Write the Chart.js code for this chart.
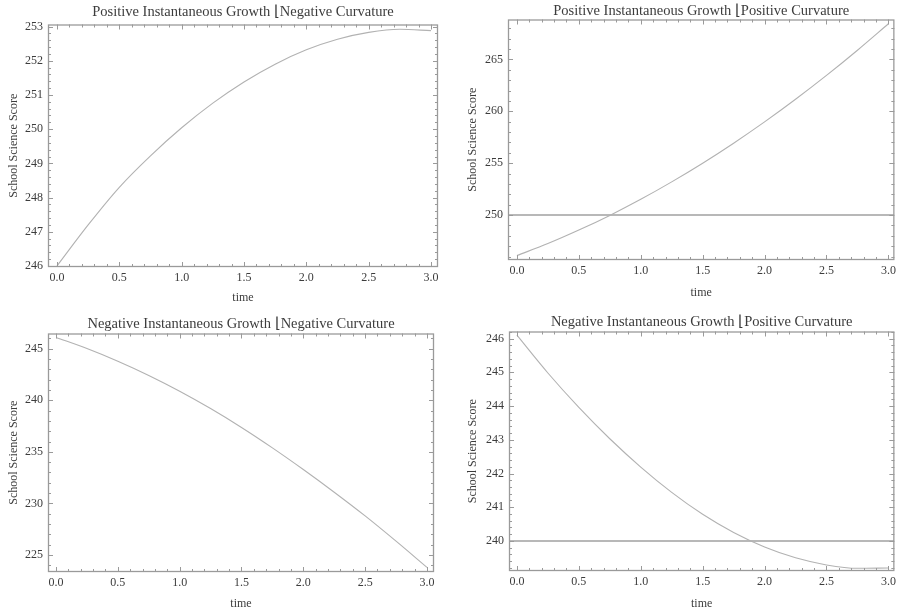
<!DOCTYPE html>
<html>
<head>
<meta charset="utf-8">
<script src="https://cdn.jsdelivr.net/npm/chart.js@4"></script>
<style>
  html, body { margin: 0; padding: 0; background: #fff; }
  body { width: 900px; height: 613px; position: relative; overflow: hidden; }
  .panel { position: absolute; }
</style>
</head>
<body>
<div class="panel" style="left:0;top:0;width:450px;height:306px"><canvas id="c1"></canvas></div>
<div class="panel" style="left:450px;top:0;width:450px;height:306px"><canvas id="c2"></canvas></div>
<div class="panel" style="left:0;top:310px;width:450px;height:303px"><canvas id="c3"></canvas></div>
<div class="panel" style="left:450px;top:310px;width:450px;height:303px"><canvas id="c4"></canvas></div>
<script>
'use strict';

// ─── Data ─────────────────────────────────────────────────────────────────────

const times = [0, 0.25, 0.5, 0.75, 1, 1.25, 1.5, 1.75, 2, 2.25, 2.5, 2.75, 3];

const posGrowthNegCurv = [246.0, 247.2, 248.3, 249.22, 250.04, 250.76, 251.38, 251.9, 252.32, 252.63, 252.83, 252.92, 252.88];
const posGrowthPosCurv = [246.1, 247.25, 248.55, 249.97, 251.52, 253.2, 255.0, 256.93, 258.98, 261.16, 263.46, 265.89, 268.44];
const negGrowthNegCurv = [246.1, 245.02, 243.79, 242.41, 240.88, 239.2, 237.37, 235.39, 233.29, 231.09, 228.79, 226.34, 223.8];
const negGrowthPosCurv = [246.1, 244.98, 243.96, 243.03, 242.19, 241.44, 240.79, 240.25, 239.82, 239.5, 239.29, 239.19, 239.2];

const refLevelPosPos = 250;
const refLevelNegPos = 240;

const xTicks  = [0, 0.5, 1, 1.5, 2, 2.5, 3];
const yTicks1 = [246, 247, 248, 249, 250, 251, 252, 253];
const yTicks2 = [250, 255, 260, 265];
const yTicks3 = [225, 230, 235, 240, 245];
const yTicks4 = [240, 241, 242, 243, 244, 245, 246];

const titles = [
  'Positive Instantaneous Growth \u230ANegative Curvature',
  'Positive Instantaneous Growth \u230APositive Curvature',
  'Negative Instantaneous Growth \u230ANegative Curvature',
  'Negative Instantaneous Growth \u230APositive Curvature',
];

// ─── Layout (pixels relative to each panel) ───────────────────────────────────

const SERIF = '"Liberation Serif", "Times New Roman", serif';
const TEXT  = '#3c3c3c';
const FRAME = '#9a9a9a';

const panels = [
  { id: 'c1', w: 450, h: 306, area: { l: 48, t: 24, r: 438, b: 267 }, titleY: 12,
    x: [-0.072, 3.056], y: [245.97, 253.06], yTicks: yTicks1, yMinor: 0.2, yMajor: 1,
    yTitlePad: 6.8, xTitlePad: 0.8, series: posGrowthNegCurv, ref: null },
  { id: 'c2', w: 450, h: 306, area: { l: 58, t: 19, r: 447, b: 260 }, titleY: 11,
    x: [-0.072, 3.048], y: [245.67, 268.85], yTicks: yTicks2, yMinor: 1, yMajor: 5,
    yTitlePad: 15.5, xTitlePad: 5.8, series: posGrowthPosCurv, ref: refLevelPosPos },
  { id: 'c3', w: 450, h: 303, area: { l: 48, t: 23, r: 434, b: 262 }, titleY: 14,
    x: [-0.065, 3.057], y: [223.35, 246.48], yTicks: yTicks3, yMinor: 1, yMajor: 5,
    yTitlePad: 6.8, xTitlePad: 1.8, series: negGrowthNegCurv, ref: null },
  { id: 'c4', w: 450, h: 303, area: { l: 59, t: 21, r: 447, b: 261 }, titleY: 12,
    x: [-0.064, 3.048], y: [239.11, 246.21], yTicks: yTicks4, yMinor: 0.2, yMajor: 1,
    yTitlePad: 15.5, xTitlePad: 1.8, series: negGrowthPosCurv, ref: refLevelNegPos },
];

// ─── Inward frame ticks (Mathematica style) ───────────────────────────────────

function isMultiple(v, step) {
  const q = v / step;
  return Math.abs(q - Math.round(q)) < 1e-6;
}

const frameTicks = {
  id: 'frameTicks',
  afterDatasetsDraw(chart, args, opts) {
    const { ctx, chartArea: a, scales: { x, y } } = chart;
    ctx.save();
    ctx.strokeStyle = FRAME;
    ctx.lineWidth = 1.3;
    ctx.strokeRect(a.left + 0.5, a.top + 0.5, a.right - a.left - 1, a.bottom - a.top - 1);

    ctx.lineWidth = 1;
    ctx.beginPath();
    for (let k = Math.ceil(x.min / 0.1); k <= Math.floor(x.max / 0.1); k++) {
      const v = k * 0.1;
      const len = isMultiple(v, 0.5) ? 5 : 3;
      const px = Math.round(x.getPixelForValue(v)) + 0.5;
      ctx.moveTo(px, a.bottom); ctx.lineTo(px, a.bottom - len);
      ctx.moveTo(px, a.top);    ctx.lineTo(px, a.top + len);
    }
    for (let k = Math.ceil(y.min / opts.minor); k <= Math.floor(y.max / opts.minor); k++) {
      const v = k * opts.minor;
      const len = isMultiple(v, opts.major) ? 5 : 3;
      const py = Math.round(y.getPixelForValue(v)) + 0.5;
      ctx.moveTo(a.left, py);  ctx.lineTo(a.left + len, py);
      ctx.moveTo(a.right, py); ctx.lineTo(a.right - len, py);
    }
    ctx.stroke();
    ctx.restore();
  },
};

// ─── Build one panel ──────────────────────────────────────────────────────────

function buildPanel(p, title) {
  const curve = times.map((t, i) => ({ x: t, y: p.series[i] }));
  const datasets = [{
    data: curve,
    borderColor: '#b2b2b2',
    borderWidth: 1.1,
    pointRadius: 0,
    cubicInterpolationMode: 'monotone',
  }];
  if (p.ref !== null) {
    datasets.push({
      data: [{ x: p.x[0], y: p.ref }, { x: p.x[1], y: p.ref }],
      borderColor: '#a0a0a0',
      borderWidth: 1.4,
      pointRadius: 0,
    });
  }

  const titleLh = 14;
  const padTop = p.titleY - titleLh / 2;
  const padBottom = p.area.t - padTop - titleLh;

  new Chart(document.getElementById(p.id), {
    type: 'line',
    data: { datasets },
    plugins: [frameTicks],
    options: {
      responsive: true,
      maintainAspectRatio: false,
      animation: false,
      layout: { padding: { left: 0, top: 0, bottom: 0, right: p.w - p.area.r } },
      plugins: {
        legend: { display: false },
        tooltip: { enabled: false },
        title: {
          display: true,
          fullSize: false,
          text: title,
          color: TEXT,
          font: { family: SERIF, size: 14.5, weight: 'normal', lineHeight: 1 },
          padding: { top: padTop, bottom: padBottom },
        },
        frameTicks: { minor: p.yMinor, major: p.yMajor },
      },
      scales: {
        x: {
          type: 'linear',
          min: p.x[0],
          max: p.x[1],
          grid: { display: false, drawTicks: false },
          border: { display: false },
          afterBuildTicks: (s) => { s.ticks = xTicks.map((v) => ({ value: v })); },
          afterFit: (s) => { s.height = p.h - p.area.b; },
          ticks: {
            autoSkip: false,
            maxRotation: 0,
            padding: 4,
            color: TEXT,
            font: { family: SERIF, size: 12 },
            callback: (v) => Number(v).toFixed(1),
          },
          title: {
            display: true,
            text: 'time',
            color: TEXT,
            font: { family: SERIF, size: 12 },
            padding: { top: 0, bottom: p.xTitlePad },
          },
        },
        y: {
          type: 'linear',
          min: p.y[0],
          max: p.y[1],
          grid: { display: false, drawTicks: false },
          border: { display: false },
          afterBuildTicks: (s) => { s.ticks = p.yTicks.map((v) => ({ value: v })); },
          afterFit: (s) => { s.width = p.area.l; },
          ticks: {
            autoSkip: false,
            padding: 5,
            color: TEXT,
            font: { family: SERIF, size: 12 },
            callback: (v) => String(v),
          },
          title: {
            display: true,
            text: 'School Science Score',
            color: TEXT,
            font: { family: SERIF, size: 12 },
            padding: { top: p.yTitlePad, bottom: 0 },
          },
        },
      },
    },
  });
}

// ─── Init ─────────────────────────────────────────────────────────────────────

panels.forEach((p, i) => buildPanel(p, titles[i]));
</script>
</body>
</html>
